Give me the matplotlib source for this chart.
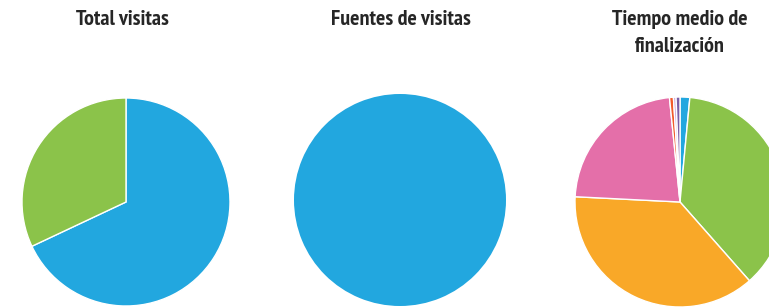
import matplotlib
matplotlib.use("Agg")
import matplotlib.pyplot as plt

# --- data (percent of each pie, clockwise from 12 o'clock) ---
titles = ["Total visitas", "Fuentes de visitas", "Tiempo medio de\nfinalización"]

total_vals = [68, 32]
total_colors = ["#22a7df", "#8bc34a"]

fuentes_vals = [100]
fuentes_colors = ["#22a7df"]

tiempo_vals = [1.5, 37.0, 37.3, 22.6, 0.6, 0.4, 0.6]
tiempo_colors = ["#22a7df", "#8bc34a", "#f9a828", "#e46fa9",
                 "#f15a2b", "#c9a0d8", "#7b5ea7"]

# --- layout in pixels (figure is 769 x 308) ---
W, H = 769, 308
centers = [(126, H - 202), (400, H - 200), (680, H - 202)]
radii = [104, 106, 105]
title_x = [122, 401, 680]

fig = plt.figure(figsize=(W / 100, H / 100), dpi=100)
ax = fig.add_axes([0, 0, 1, 1])

series = [(total_vals, total_colors), (fuentes_vals, fuentes_colors),
          (tiempo_vals, tiempo_colors)]
for (vals, cols), c, r in zip(series, centers, radii):
    ax.pie(vals, colors=cols, center=c, radius=r, startangle=90,
           counterclock=False, frame=True,
           wedgeprops=dict(edgecolor="white", linewidth=1 if len(vals) > 1 else 0))

for x, t in zip(title_x, titles):
    ax.text(x, H - 10, t, ha="center", va="top", fontsize=15.8,
            family=["PT Sans Narrow", "DejaVu Sans"], fontweight="bold",
            color="#262626", linespacing=1.55)

ax.set_xlim(0, W)
ax.set_ylim(0, H)
ax.set_aspect("equal")
ax.axis("off")

fig.savefig("out.png", dpi=100)
